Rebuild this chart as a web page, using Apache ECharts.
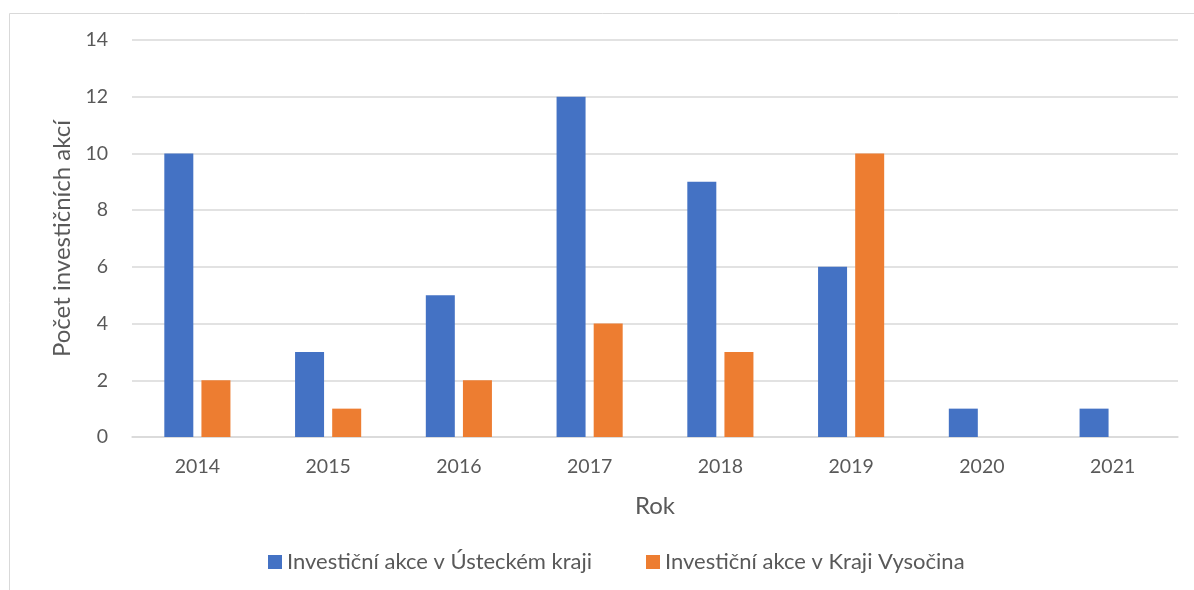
<!DOCTYPE html>
<html><head><meta charset="utf-8">
<script src="https://cdn.jsdelivr.net/npm/echarts@6/dist/echarts.min.js"></script>
<style>html,body{margin:0;padding:0;background:#fff}#c{width:1194px;height:590px}</style>
</head><body><div id="c"></div>
<script>
const categories = ['2014','2015','2016','2017','2018','2019','2020','2021'];
const usteckyValues = [10,3,5,12,9,6,1,1];
const vysocinaValues = [2,1,2,4,3,10,null,null];
const seriesNames = ['Investiční akce v Ústeckém kraji','Investiční akce v Kraji Vysočina'];
const yTicks = {min:0,max:14,interval:2};

const chart = echarts.init(document.getElementById('c'));
const font = 'Lato, "Open Sans", sans-serif';
chart.setOption({
  animation:false,
  textStyle:{fontFamily:font},
  graphic:[{type:'rect',shape:{x:9.5,y:13.5,width:1300,height:700},style:{fill:'none',stroke:'#d9d9d9',lineWidth:1},silent:true}],
  grid:{left:132,right:16,top:40,bottom:153},
  legend:{bottom:12,left:263,itemWidth:14,itemHeight:14,itemGap:54,icon:'rect',
    textStyle:{color:'#595959',fontSize:22,fontFamily:font},data:seriesNames},
  xAxis:{type:'category',data:categories,name:'Rok',nameLocation:'middle',nameGap:57,
    nameTextStyle:{color:'#595959',fontSize:24,fontFamily:font},
    axisLine:{lineStyle:{color:'#d9d9d9',width:1.5}},axisTick:{show:false},
    axisLabel:{color:'#595959',fontSize:19.5,margin:20,fontFamily:font}},
  yAxis:{type:'value',min:yTicks.min,max:yTicks.max,interval:yTicks.interval,
    name:'Počet investičních akcí',nameLocation:'middle',nameGap:56,
    nameTextStyle:{color:'#595959',fontSize:24,fontFamily:font},
    axisLine:{show:false},axisTick:{show:false},
    splitLine:{lineStyle:{color:'#d9d9d9',width:1.5}},
    axisLabel:{color:'#595959',fontSize:19.5,margin:24,fontFamily:font}},
  series:[
    {name:seriesNames[0],type:'bar',data:usteckyValues,barWidth:29,barGap:'28%',itemStyle:{color:'#4472c4'}},
    {name:seriesNames[1],type:'bar',data:vysocinaValues,barWidth:29,barGap:'28%',itemStyle:{color:'#ed7d31'}}
  ]
});
</script></body></html>
